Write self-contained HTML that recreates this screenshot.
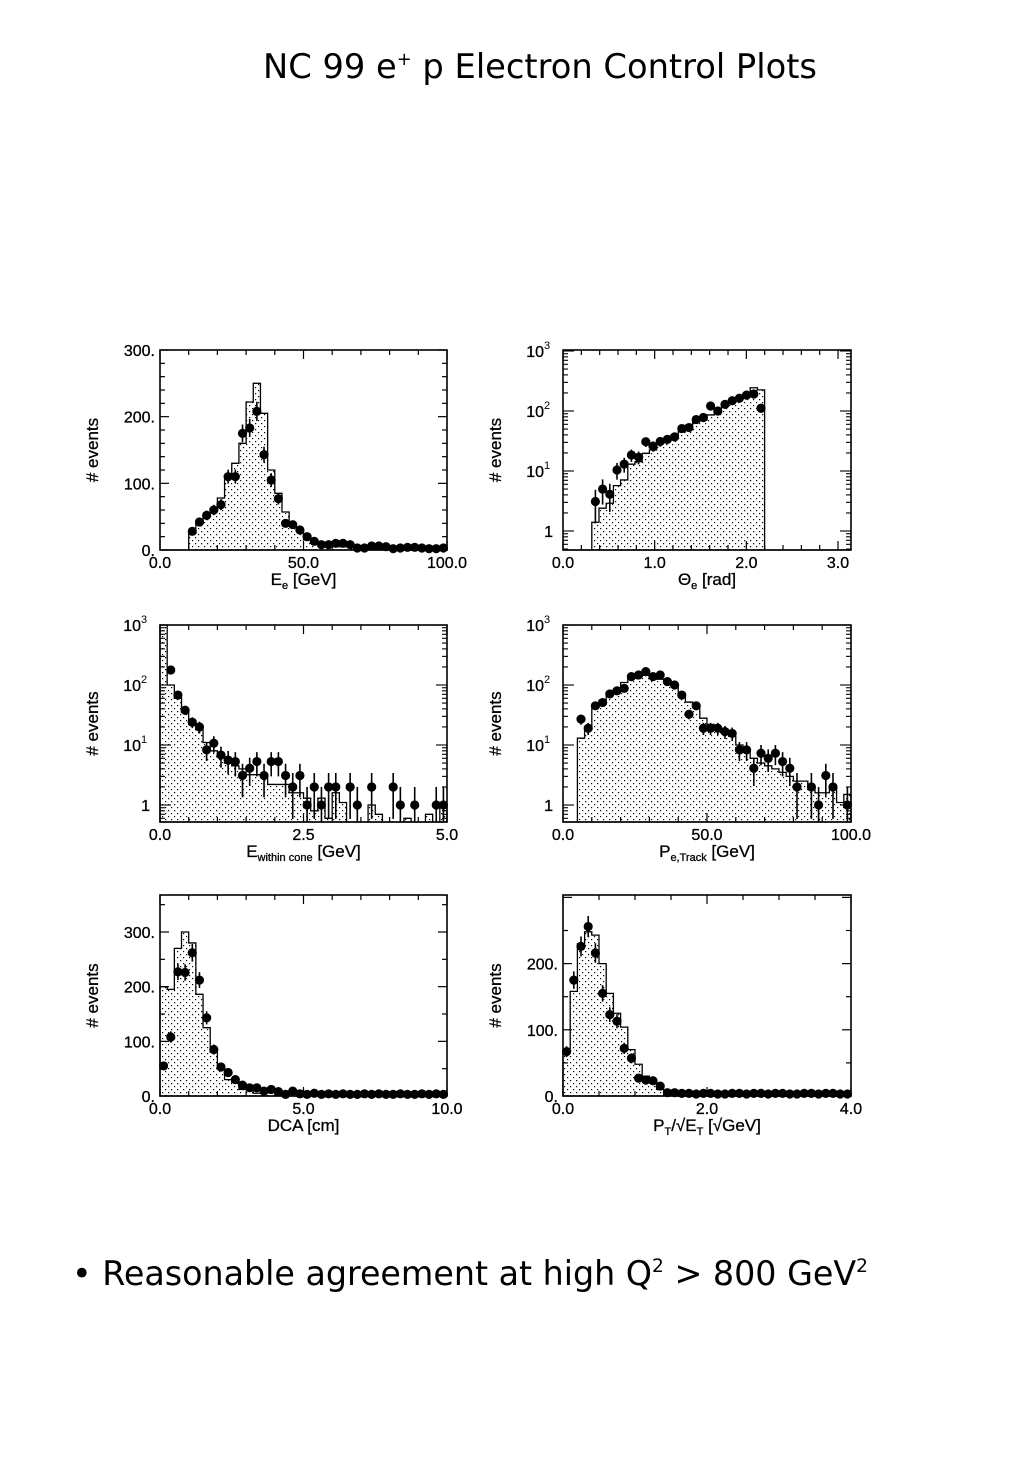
<!DOCTYPE html>
<html><head><meta charset="utf-8">
<style>
html,body{margin:0;padding:0;background:#fff;}
svg{display:block;}
text{font-family:"Liberation Sans",sans-serif;}
</style></head>
<body>
<svg id="page" width="1024" height="1478" viewBox="0 0 1024 1478" xmlns="http://www.w3.org/2000/svg">
<defs>
<pattern id="stip" width="6" height="6" patternUnits="userSpaceOnUse">
<rect width="6" height="6" fill="#fff"/>
<rect x="0" y="0" width="1.2" height="1.2" fill="#000"/>
<rect x="3" y="3" width="1.2" height="1.2" fill="#000"/>
</pattern>
</defs>
<text x="540" y="78" text-anchor="middle" font-size="34" style="font-family:'DejaVu Sans','Liberation Sans',sans-serif" textLength="554" lengthAdjust="spacingAndGlyphs">NC 99 e<tspan font-size="18" dy="-13">+</tspan><tspan dy="13"> p Electron Control Plots</tspan></text>
<text x="72" y="1285" font-size="34" style="font-family:'DejaVu Sans','Liberation Sans',sans-serif" textLength="796" lengthAdjust="spacingAndGlyphs">• Reasonable agreement at high Q<tspan font-size="19" dy="-13">2</tspan><tspan dy="13"> &gt; 800 GeV</tspan><tspan font-size="19" dy="-13">2</tspan></text>
<g id="charts"></g>
</svg>
<script>
// ---- data (bins of equal width across each x range; 0 = empty) ----
const eeMC   = [0,0,0,0,25,40,50,60,78,112,130,160,222,250,205,120,85,57,40,30,15,10,8,6,5,5,5,5,3,3,3,2,2,2,2,2,2,1,1,1];
const eeData = [0,0,0,0,28,42,52,60,68,110,110,175,183,208,143,105,77,40,38,30,20,13,8,8,10,10,8,3,3,6,6,5,2,3,4,4,3,2,2,3];
const thMC   = [0,0,0,0,1.4,2.4,2.9,5.7,7.1,13,14.3,19.7,22.4,29,35,40,45,58,67,71,86,104,126,142,163,196,244,225,0,0,0,0,0,0,0,0,0,0,0,0];
const thData = [0,0,0,0,3.1,5,4.1,10.4,13,18.5,17,30.7,26,31,33.7,37,51,53,72,78,121,100,129,148,163,184,192,111,0,0,0,0,0,0,0,0,0,0,0,0];
const ecMC   = [2000,100,60,35,22,18,11,8,7,5,4.5,4,3.2,3.2,3.2,2.2,2.2,2.2,1.6,1.6,1.3,0.8,1.3,0.6,1.6,1.1,0.5,0.4,0.4,1.0,0.7,0.4,0.3,0.3,0.6,0.4,0.3,0.7,0.3,1.1];
const ecData = [0,178,68,38,24,20,8.3,10.7,6.8,5.6,5.3,3.1,4.1,5.3,3.1,5.3,5.3,3.1,2,3.1,1,2,1,2,2,0,2,1,0,2,0,0,2,1,0,1,0,0,1,1];
const ptMC   = [0,0,13,20,42,55,70,85,110,130,150,145,140,125,115,95,70,52,45,28,22,19,17,14,10,8,6,5,4.5,4,3.5,3,2.5,2.5,2,1.6,1.6,2,1.1,1.5];
const ptData = [0,0,27,19,45,51,71,80,88,138,147,167,138,147,114,100,68,32.5,45,19,19,19,16.7,15.6,8.3,8.3,4.1,7.3,6,7.3,5.3,4.1,2,0,2,1,3.1,2,0,1];
const dcaMC  = [200,195,270,300,280,186,125,80,50,30,25,12,15,5,5,8,5,3,3,3,2,2,2,2,1,1,1,1,1,1,1,1,1,1,1,1,1,1,1,1];
const dcaData= [55,108,227,226,262,212,143,85,53,43,30,20,15,15,9,12,8,3,9,4,3,5,3,4,3,4,3,3,4,3,4,3,3,4,3,3,4,3,4,3];
const etMC   = [68,158,230,248,243,200,155,125,104,70,48,30,20,10,2,1,1,1,1,1,1,1,1,1,1,1,1,1,1,1,1,1,1,1,1,1,1,1,1,1];
const etData = [67,175,226,256,216,155,123,113,72,57,27,24,23,15,5,5,4,4,3,4,4,3,3,4,4,3,4,4,3,4,4,3,3,4,4,3,4,4,3,3];

const NS='http://www.w3.org/2000/svg';
const root=document.getElementById('charts');
function mk(tag,attrs,parent){const e=document.createElementNS(NS,tag);for(const k in attrs)e.setAttribute(k,attrs[k]);(parent||root).appendChild(e);return e;}

function panel(c){
  const g=mk('g',{});
  
  
  const X=v=>c.x0+(v-c.xmin)/(c.xmax-c.xmin)*(c.x1-c.x0);
  let Y;
  if(c.log){ Y=v=>{const y=c.yone-Math.log10(v)*60;return Math.max(c.y0,Math.min(c.y1,y));}; }
  else { Y=v=>Math.max(c.y0,c.y1-v*c.ppu); }
  const n=c.mc.length, w=(c.xmax-c.xmin)/n;
  let d='M'+X(c.xmin)+','+c.y1;
  for(let i=0;i<n;i++){
    const v=c.mc[i]; const y=(v>0)?Y(v):c.y1;
    d+=' L'+X(c.xmin+i*w)+','+y+' L'+X(c.xmin+(i+1)*w)+','+y;
  }
  d+=' L'+X(c.xmax)+','+c.y1+' Z';
  const h=mk('path',{d:d,fill:'url(#stip)',stroke:'#000','stroke-width':1.3},g);
  
  
  for(let i=0;i<n;i++){
    const v=c.data[i]; if(!(v>0)) continue;
    const cx=X(c.xmin+(i+0.5)*w), e=Math.sqrt(v);
    const lo=c.log?Y(Math.max(v-e,1e-3)):Y(Math.max(v-e,0)), hi=Y(v+e);
    const l=mk('line',{x1:cx,x2:cx,y1:lo,y2:hi,stroke:'#000','stroke-width':1.6},g);
    
    
    const yc=Y(v);
    if(c.log && yc>=c.y1) continue;
    const p=mk('circle',{cx:cx,cy:yc,r:4.6,fill:'#000'},g);
    
    
  }
  const f=mk('rect',{x:c.x0,y:c.y0,width:c.x1-c.x0,height:c.y1-c.y0,fill:'none',stroke:'#000','stroke-width':1.6},g);
  
  
  for(let v=c.xmin;v<=c.xmax+1e-9;v+=c.xminor){
    const major=Math.abs(Math.round(v/c.xmajor)*c.xmajor-v)<1e-6;
    const L=major?9:5, x=X(v);
    mk('line',{x1:x,x2:x,y1:c.y1,y2:c.y1-L,stroke:'#000','stroke-width':1.2},g);
    mk('line',{x1:x,x2:x,y1:c.y0,y2:c.y0+L,stroke:'#000','stroke-width':1.2},g);
  }
  c.xlabels.forEach(([v,t])=>{
    const tx=mk('text',{x:X(v),y:c.y1+18,'text-anchor':'middle','font-size':16,stroke:'#000','stroke-width':0.3},g);
    tx.textContent=t;
    
    
  });
  if(c.log){
    for(let dcd=-1;dcd<=3;dcd++){
      for(let m=1;m<=9;m++){
        const v=m*Math.pow(10,dcd); const y=c.yone-Math.log10(v)*60;
        if(y<c.y0-0.5||y>c.y1+0.5) continue;
        const L=(m===1)?11:5;
        mk('line',{x1:c.x0,x2:c.x0+L,y1:y,y2:y,stroke:'#000','stroke-width':1.1},g);
        mk('line',{x1:c.x1,x2:c.x1-L,y1:y,y2:y,stroke:'#000','stroke-width':1.1},g);
      }
    }
    [[0,'1'],[1,'10','1'],[2,'10','2'],[3,'10','3']].forEach(([p,b,s])=>{
      const y=c.yone-p*60;
      const tx=mk('text',{x:c.x0-10,y:y+6,'text-anchor':'end','font-size':16,stroke:'#000','stroke-width':0.3},g);
      
      
      if(s){ tx.setAttribute('x',c.x0-19); tx.textContent=b;
        const t2=mk('text',{x:c.x0-19,y:y-2,'font-size':11},g); t2.textContent=s; }
      else tx.textContent=b;
    });
  } else {
    for(let v=0;c.y1-v*c.ppu>=c.y0-0.5;v+=c.yminor){
      const y=c.y1-v*c.ppu; const major=v%c.ymajor===0; const L=major?9:5;
      mk('line',{x1:c.x0,x2:c.x0+L,y1:y,y2:y,stroke:'#000','stroke-width':1.2},g);
      mk('line',{x1:c.x1,x2:c.x1-L,y1:y,y2:y,stroke:'#000','stroke-width':1.2},g);
    }
    c.ylabels.forEach(v=>{
      const tx=mk('text',{x:c.x0-5,y:c.y1-v*c.ppu+6,'text-anchor':'end','font-size':16,stroke:'#000','stroke-width':0.3},g);
      tx.textContent=v+'.';
      
      
    });
  }
  const yt=mk('text',{transform:'translate('+(c.x0-62)+','+((c.y0+c.y1)/2)+') rotate(-90)','text-anchor':'middle','font-size':17,stroke:'#000','stroke-width':0.3},g);
  yt.textContent='# events';
  
  
  const xt=mk('text',{x:(c.x0+c.x1)/2,y:c.y1+35,'text-anchor':'middle','font-size':17,stroke:'#000','stroke-width':0.3},g);
  
  
  xt.innerHTML=c.xtitle;
}

const L0=160,L1=447,R0=563,R1=851;
panel({name:'electron-energy-plot',x0:L0,x1:L1,y0:350,y1:550,xmin:0,xmax:100,ppu:200/300,mc:eeMC,data:eeData,
  xminor:10,xmajor:50,xlabels:[[0,'0.0'],[50,'50.0'],[100,'100.0']],yminor:20,ymajor:100,ylabels:[0,100,200,300],
  xtitle:'E<tspan font-size="11" dy="4">e</tspan><tspan dy="-4"> [GeV]</tspan>'});
panel({name:'electron-theta-plot',x0:R0,x1:R1,y0:350,y1:550,xmin:0,xmax:Math.PI,log:true,yone:531,mc:thMC,data:thData,
  xminor:0.2,xmajor:1,xlabels:[[0,'0.0'],[1,'1.0'],[2,'2.0'],[3,'3.0']],
  xtitle:'Θ<tspan font-size="11" dy="4">e</tspan><tspan dy="-4"> [rad]</tspan>'});
panel({name:'energy-within-cone-plot',x0:L0,x1:L1,y0:625,y1:822,xmin:0,xmax:5,log:true,yone:805,mc:ecMC,data:ecData,
  xminor:0.5,xmajor:2.5,xlabels:[[0,'0.0'],[2.5,'2.5'],[5,'5.0']],
  xtitle:'E<tspan font-size="11" dy="4">within cone</tspan><tspan dy="-4"> [GeV]</tspan>'});
panel({name:'track-momentum-plot',x0:R0,x1:R1,y0:625,y1:822,xmin:0,xmax:100,log:true,yone:805,mc:ptMC,data:ptData,
  xminor:10,xmajor:50,xlabels:[[0,'0.0'],[50,'50.0'],[100,'100.0']],
  xtitle:'P<tspan font-size="11" dy="4">e,Track</tspan><tspan dy="-4"> [GeV]</tspan>'});
panel({name:'dca-plot',x0:L0,x1:L1,y0:895,y1:1096,xmin:0,xmax:10,ppu:164/300,mc:dcaMC,data:dcaData,
  xminor:1,xmajor:5,xlabels:[[0,'0.0'],[5,'5.0'],[10,'10.0']],yminor:50,ymajor:100,ylabels:[0,100,200,300],
  xtitle:'DCA [cm]'});
panel({name:'pt-over-sqrt-et-plot',x0:R0,x1:R1,y0:895,y1:1096,xmin:0,xmax:4,ppu:0.662,mc:etMC,data:etData,
  xminor:0.5,xmajor:2,xlabels:[[0,'0.0'],[2,'2.0'],[4,'4.0']],yminor:50,ymajor:100,ylabels:[0,100,200],
  xtitle:'P<tspan font-size="11" dy="4">T</tspan><tspan dy="-4">/√E</tspan><tspan font-size="11" dy="4">T</tspan><tspan dy="-4"> [√GeV]</tspan>'});
</script>
</body></html>
